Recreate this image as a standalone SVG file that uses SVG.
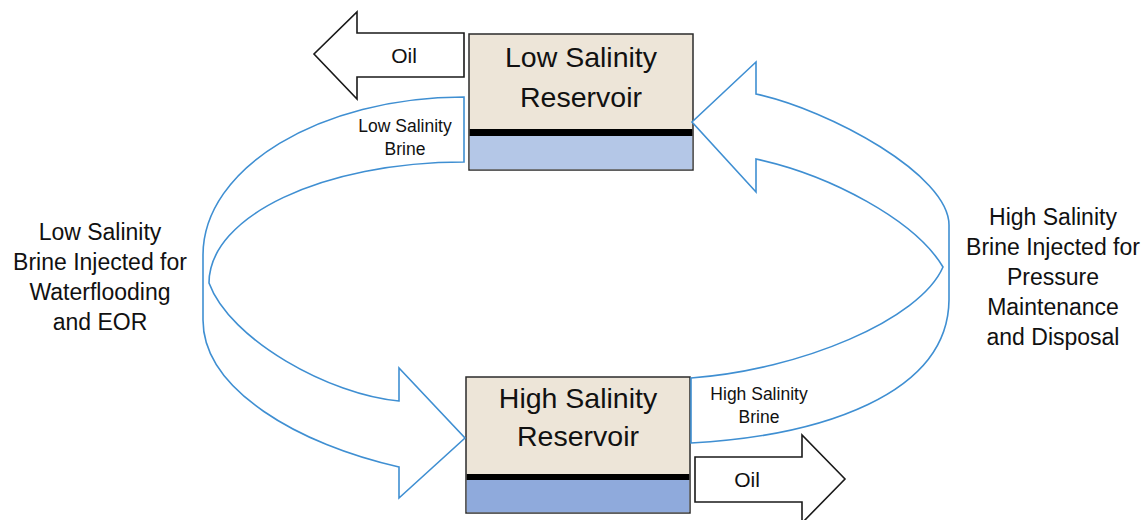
<svg xmlns="http://www.w3.org/2000/svg" width="1148" height="520" viewBox="0 0 1148 520">
<style>
text{font-family:"Liberation Sans",Arial,sans-serif;fill:#111;text-anchor:middle}
.title{font-size:28.5px}
.small{font-size:17.5px}
.side{font-size:23px}
.oil{font-size:21px}
.box{fill:#ede5d8;stroke:#2b2b2b;stroke-width:1.5}
.band{fill:#fff;stroke:#3f8fd2;stroke-width:1.6;stroke-linejoin:miter}
.oilarrow{fill:#fff;stroke:#1a1a1a;stroke-width:1.6;stroke-linejoin:miter}
</style>
<rect width="1148" height="520" fill="#fff"/>

<g id="low-salinity-reservoir">
<rect class="box" x="469" y="34" width="224" height="136"/>
<rect x="469.75" y="136" width="222.5" height="33.25" fill="#b4c7e7"/>
<rect x="469.75" y="129" width="222.5" height="7" fill="#000"/>
<text class="title" x="581" y="67">Low Salinity</text>
<text class="title" x="581" y="107">Reservoir</text>
</g>

<g id="high-salinity-reservoir">
<rect class="box" x="466" y="377" width="224" height="136"/>
<rect x="466.75" y="480" width="222.5" height="32.25" fill="#8faadc"/>
<rect x="466.75" y="474" width="222.5" height="6" fill="#000"/>
<text class="title" x="578" y="408">High Salinity</text>
<text class="title" x="578" y="446">Reservoir</text>
</g>

<g id="connectors">
<g id="low-salinity-brine-arrow">
<path class="band" d="M464,97 C320,97 203,168 203,255 L203,320 C203,390 300,445 399,467 L399,498 L465,438 L399,368 L399,401 C330,395 230,340 209,283 C209,216 323,162 464,162 Z"/>
<text class="small" x="405" y="132">Low Salinity</text>
<text class="small" x="405" y="155">Brine</text>
</g>
<g id="high-salinity-brine-arrow">
<path class="band" d="M691,443 C820,436 948,395 949,300 L949,225 C949,175 830,110 756,94 L756,62 L692,122 L756,192 L756,159 C830,175 915,220 943,267 C920,320 800,370 691,378 Z"/>
<text class="small" x="759" y="400">High Salinity</text>
<text class="small" x="759" y="423">Brine</text>
</g>
<g id="oil-out-top">
<path class="oilarrow" d="M464,33 L357,33 L357,12 L314,54 L357,99 L357,77 L464,77 Z"/>
<text class="oil" x="404" y="63">Oil</text>
</g>
<g id="oil-out-bottom">
<path class="oilarrow" d="M695,457 L802,457 L802,435 L845,479 L802,523 L802,502 L695,502 Z"/>
<text class="oil" x="747" y="487">Oil</text>
</g>
</g>

<g id="label-left">
<text class="side" x="100" y="240">Low Salinity</text>
<text class="side" x="100" y="270">Brine Injected for</text>
<text class="side" x="100" y="300">Waterflooding</text>
<text class="side" x="100" y="330">and EOR</text>
</g>

<g id="label-right">
<text class="side" x="1053" y="225">High Salinity</text>
<text class="side" x="1053" y="255">Brine Injected for</text>
<text class="side" x="1053" y="285">Pressure</text>
<text class="side" x="1053" y="315">Maintenance</text>
<text class="side" x="1053" y="345">and Disposal</text>
</g>
</svg>
